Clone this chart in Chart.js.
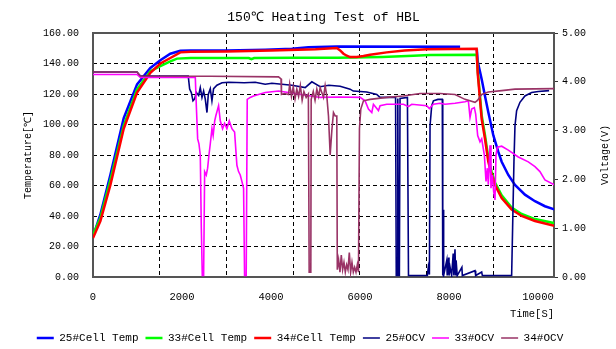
<!DOCTYPE html>
<html lang="en">
<head>
    <meta charset="UTF-8">
    <title>150℃ Heating Test of HBL</title>
    <script src="https://cdn.jsdelivr.net/npm/chart.js"></script>
    <style>
        body { margin: 0; background: #fff; }
        canvas { display: block; }
    </style>
</head>
<body>
    <canvas id="heatChart" width="616" height="349"></canvas>

    <script>
        // time [s] and temperature [C] for each cell
        const tCell25 = [0, 166, 391, 690, 990, 1289, 1513, 1738, 1962, 2187, 3000, 3870, 4470, 4840, 5480, 8250, 8400, 8625, 8645, 8735, 8809, 8884, 8997, 9109, 9184, 9333, 9483, 9707, 9932, 10156, 10366];
        const cell25 = [26.5, 41, 67, 104.1, 126.3, 137.1, 142.1, 146.4, 148.3, 148.6, 148.6, 149, 149.6, 150.7, 151.2, 151, null, 149.5, 141.4, 129.6, 118.7, 108, 92.8, 82, 75.6, 66.9, 60.4, 54, 49.7, 46.4, 44.3];

        const tCell33 = [0, 166, 391, 690, 990, 1289, 1513, 1738, 1888, 2187, 3500, 3560, 3620, 4500, 5500, 6500, 7200, 7575, 8622, 8650, 8735, 8809, 8884, 8959, 9034, 9184, 9408, 9633, 9932, 10366];
        const cell33 = [27.5, 38.9, 63.7, 99.3, 123.1, 135, 138.2, 141.4, 143.2, 143.6, 143.6, 142.8, 143.6, 143.7, 143.8, 144.3, 145.1, 145.5, 145.8, 134, 106, 93, 78, 69, 62, 53.5, 45.5, 41.3, 38, 35.3];

        const tCell34 = [0, 166, 391, 690, 990, 1289, 1513, 1738, 1962, 2200, 3000, 4000, 5000, 5480, 5554, 5629, 5704, 5778, 5928, 6078, 6227, 6600, 7000, 7500, 8622, 8645, 8735, 8809, 8884, 8959, 9034, 9184, 9408, 9633, 9932, 10366];
        const cell34 = [25.5, 36.7, 60.4, 97.2, 120.9, 133.9, 140, 143.6, 147.3, 147.7, 147.9, 148.6, 149.4, 150.1, 148.6, 146.4, 145.1, 144.2, 144.2, 144.9, 145.8, 147.3, 148.6, 149.4, 149.6, 133.9, 103.6, 90.7, 75.6, 66.9, 60.4, 51.8, 44.3, 40, 36.7, 33.5];

        // time [s] and open circuit voltage [V]
        const tOcv25 = [0, 990, 1064, 2140, 2172, 2209, 2247, 2284, 2322, 2374, 2411, 2449, 2486, 2524, 2561, 2591, 2636, 2673, 2710, 2785, 2900, 3047, 3400, 3645, 3870, 4020, 4244, 4469, 4768, 4918, 5105, 5300, 5554, 5778, 5850, 6153, 6377, 6450, 6800, 6815, 6835, 6850, 6865, 6885, 6900, 7066, 7090, 7514, 7535, 7560, 7574, 7612, 7650, 7750, 7850, 7860, 7870, 7880, 7950, 7960, 7990, 8000, 8025, 8060, 8095, 8110, 8135, 8150, 8160, 8185, 8290, 8300, 8585, 8600, 8735, 8750, 9408, 9430, 9460, 9483, 9520, 9595, 9707, 9857, 10006, 10250];
        const ocv25 = [4.2, 4.2, 4.12, 4.12, 3.85, 3.78, 3.61, 3.65, 3.78, 3.72, 3.88, 3.68, 3.81, 3.64, 3.37, 3.74, 3.86, 3.61, 3.86, 3.93, 3.98, 3.99, 3.98, 3.99, 3.95, 3.97, 3.95, 3.93, 3.88, 4.0, 3.9, 3.93, 3.91, 3.85, 3.81, 3.79, 3.74, 3.68, 3.68, 0.03, 0.03, 3.66, 0.03, 0.03, 3.66, 3.68, 0.03, 0.03, 0.2, 0.05, 3.1, 3.51, 3.61, 3.64, 3.64, 0.03, 1.38, 0.03, 0.34, 0.03, 0.4, 0.03, 0.2, 0.03, 0.48, 0.03, 0.57, 0.03, 0.34, 0.03, 0.2, 0.03, 0.13, 0.03, 0.1, 0.03, 0.03, 1.01, 2.36, 3.1, 3.41, 3.58, 3.71, 3.78, 3.8, 3.82];

        const tOcv33 = [0, 990, 1064, 2299, 2322, 2352, 2381, 2411, 2434, 2456, 2486, 2509, 2546, 2576, 2606, 2636, 2673, 2700, 2735, 2762, 2822, 2860, 2912, 2957, 3009, 3062, 3122, 3182, 3234, 3271, 3309, 3346, 3384, 3406, 3443, 3466, 3533, 3608, 3870, 4169, 4394, 5105, 5554, 6003, 6115, 6190, 6265, 6302, 6415, 6452, 6602, 6976, 7088, 7163, 7500, 7560, 7649, 7799, 7911, 8136, 8360, 8435, 8473, 8510, 8570, 8600, 8645, 8697, 8735, 8795, 8832, 8862, 8884, 8922, 8944, 8974, 9004, 9034, 9056, 9086, 9184, 9333, 9558, 9782, 9932, 10044, 10156, 10366];
        const ocv33 = [4.15, 4.15, 4.09, 4.09, 3.51, 2.83, 2.73, 2.5, 1.01, 0.03, 0.03, 2.16, 2.09, 2.23, 2.5, 2.73, 3.04, 2.9, 3.2, 3.31, 3.51, 3.2, 3.04, 3.15, 3.04, 3.2, 3.04, 2.97, 2.29, 2.16, 2.09, 1.96, 1.82, 0.03, 0.03, 3.64, 3.68, 3.71, 3.78, 3.81, 3.78, 3.68, 3.69, 3.68, 3.61, 3.44, 3.37, 3.54, 3.41, 3.51, 3.54, 3.54, 3.49, 3.54, 3.51, 3.45, 3.54, 3.56, 3.54, 3.56, 3.59, 3.61, 3.27, 3.44, 3.47, 3.34, 2.9, 2.77, 2.83, 2.5, 1.96, 2.23, 1.89, 2.7, 1.82, 2.09, 1.75, 1.58, 2.5, 2.66, 2.68, 2.6, 2.46, 2.36, 2.26, 2.16, 1.99, 1.89];

        const tOcv34 = [0, 990, 1064, 2636, 4169, 4225, 4235, 4300, 4394, 4420, 4460, 4500, 4540, 4580, 4620, 4660, 4700, 4740, 4790, 4840, 4858, 4895, 4903, 4950, 4990, 5030, 5070, 5105, 5180, 5217, 5255, 5292, 5330, 5367, 5404, 5442, 5479, 5490, 5520, 5550, 5580, 5610, 5640, 5670, 5700, 5730, 5760, 5790, 5820, 5850, 5880, 5910, 5940, 5966, 5988, 6018, 6078, 6227, 6602, 6976, 7200, 7350, 7800, 8136, 8360, 8585, 8640, 8735, 8884, 9184, 9483, 10366];
        const ocv34 = [4.2, 4.2, 4.12, 4.115, 4.1, 4.06, 3.74, 3.76, 3.74, 3.95, 3.7, 3.9, 3.65, 3.85, 3.7, 3.92, 3.62, 3.8, 3.68, 3.75, 0.1, 0.1, 3.64, 3.8, 3.62, 3.85, 3.7, 3.88, 3.68, 3.92, 3.7, 3.3, 2.5, 3.0, 3.37, 3.3, 3.3, 0.15, 0.35, 0.1, 0.45, 0.15, 0.3, 0.1, 0.25, 0.15, 0.5, 0.1, 0.3, 0.1, 0.2, 0.1, 0.25, 0.1, 3.04, 3.44, 3.61, 3.64, 3.68, 3.71, 3.74, 3.76, 3.76, 3.74, 3.64, 3.58, 3.62, 3.74, 3.79, 3.82, 3.85, 3.86];

        const seriesNames = ["25#Cell Temp", "33#Cell Temp", "34#Cell Temp", "25#OCV", "33#OCV", "34#OCV"];
        const seriesColors = ["#0000ff", "#00ff00", "#ff0000", "#000080", "#ff00ff", "#993366"];

        const xTickValues = [0, 1500, 2000, 3000, 4000, 4500, 6000, 7500, 8000, 9000, 10000];
        const FONT = "'Liberation Mono', 'DejaVu Sans Mono', monospace";

        function toPoints(times, values) {
            return times.map((t, i) => ({ x: t, y: values[i] }));
        }

        const series = [
            [tCell25, cell25, "y"],
            [tCell33, cell33, "y"],
            [tCell34, cell34, "y"],
            [tOcv25, ocv25, "y2"],
            [tOcv33, ocv33, "y2"],
            [tOcv34, ocv34, "y2"]
        ];

        const datasets = series.map((s, i) => ({
            label: seriesNames[i],
            data: toPoints(s[0], s[1]),
            yAxisID: s[2],
            borderColor: seriesColors[i],
            backgroundColor: seriesColors[i],
            borderWidth: s[2] === "y" ? 2.5 : 1.6,
            pointRadius: 0,
            tension: 0,
            spanGaps: false,
            order: 6 - i   // later series on top, like the original
        }));

        // plot frame + right axis title (reads bottom to top)
        const framePlugin = {
            id: "frame",
            beforeDatasetsDraw(chart) {
                const a = chart.chartArea;
                const ctx = chart.ctx;
                ctx.save();
                ctx.strokeStyle = "#555";
                ctx.lineWidth = 2;
                ctx.strokeRect(a.left, a.top, a.right - a.left, a.bottom - a.top);
                ctx.restore();
            },
            afterDraw(chart) {
                const a = chart.chartArea;
                const ctx = chart.ctx;
                ctx.save();
                ctx.translate(605, (a.top + a.bottom) / 2);
                ctx.rotate(-Math.PI / 2);
                ctx.font = "10px " + FONT;
                ctx.fillStyle = "#000";
                ctx.textAlign = "center";
                ctx.textBaseline = "middle";
                ctx.fillText("Voltage(V)", 0, 0);
                ctx.restore();
            }
        };

        Chart.defaults.color = "#000";
        Chart.defaults.font.family = FONT;

        new Chart(document.getElementById("heatChart"), {
            type: "line",
            data: { datasets: datasets },
            plugins: [framePlugin],
            options: {
                responsive: false,
                animation: false,
                layout: { padding: { left: 0, right: 16, top: 0, bottom: -4.5 } },
                scales: {
                    x: {
                        type: "linear",
                        min: 0,
                        max: 10360,
                        afterBuildTicks: s => { s.ticks = xTickValues.map(v => ({ value: v })); },
                        afterFit: s => { s.height = 48.5; },
                        ticks: {
                            autoSkip: false,
                            maxRotation: 0,
                            padding: 14,
                            font: { size: 10.5 },
                            callback: v => (v % 2000 === 0 ? String(v) : "")
                        },
                        grid: {
                            drawTicks: false,
                            lineWidth: 1,
                            color: c => (c.tick && c.tick.value > 0 && c.tick.value % 1500 === 0) ? "#000" : "rgba(0,0,0,0)"
                        },
                        border: { display: false, dash: [4, 3] },
                        title: {
                            display: true,
                            text: "Time[S]",
                            align: "end",
                            font: { size: 10.5 },
                            padding: { top: 0, bottom: 5.2 }
                        }
                    },
                    y: {
                        position: "left",
                        min: 0,
                        max: 160,
                        afterFit: s => { s.width = 93; },
                        ticks: {
                            stepSize: 20,
                            padding: 14,
                            font: { size: 10 },
                            callback: v => v.toFixed(2)
                        },
                        grid: {
                            drawTicks: false,
                            lineWidth: 1,
                            color: c => (c.tick && c.tick.value > 0 && c.tick.value < 160) ? "#000" : "rgba(0,0,0,0)"
                        },
                        border: { display: false, dash: [4, 3] },
                        title: {
                            display: true,
                            text: "Temperature[℃]",
                            font: { size: 10 },
                            padding: { top: 22, bottom: 0 }
                        }
                    },
                    y2: {
                        position: "right",
                        min: 0,
                        max: 5,
                        afterFit: s => { s.width = 46; },
                        ticks: {
                            stepSize: 1,
                            padding: 4,
                            font: { size: 10 },
                            callback: v => v.toFixed(2)
                        },
                        grid: {
                            drawOnChartArea: false,
                            drawTicks: true,
                            tickLength: 4,
                            color: "#333"
                        },
                        border: { display: false }
                    }
                },
                plugins: {
                    title: {
                        display: true,
                        fullSize: false,
                        text: "150℃ Heating Test of HBL",
                        font: { size: 13, weight: "normal" },
                        padding: { top: 9.5, bottom: 7.9 }
                    },
                    legend: {
                        position: "bottom",
                        labels: {
                            usePointStyle: true,
                            pointStyle: "line",
                            pointStyleWidth: 17,
                            padding: 7,
                            font: { size: 11 },
                            sort: (a, b) => a.datasetIndex - b.datasetIndex
                        }
                    },
                    tooltip: { enabled: false }
                }
            }
        });
    </script>
</body>
</html>
